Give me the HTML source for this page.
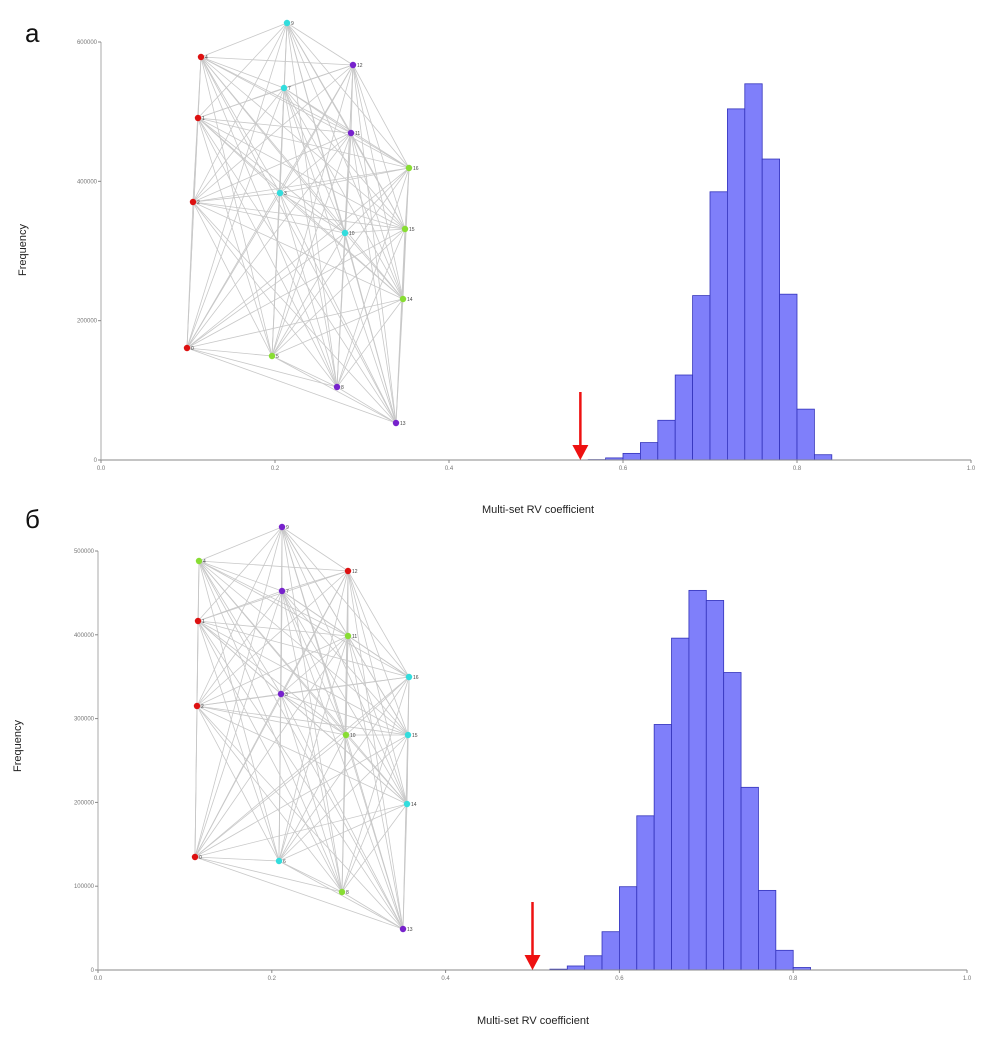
<!DOCTYPE html>
<html><head><meta charset="utf-8"><style>
body{margin:0;background:#fff;}
svg{display:block;font-family:"Liberation Sans",sans-serif;}
</style></head><body>
<svg id="chart" width="1004" height="1037" viewBox="0 0 1004 1037"></svg>
<script>
// Panel a data
const binsA = [0.56,0.58,0.60,0.62,0.64,0.66,0.68,0.70,0.72,0.74,0.76,0.78,0.80,0.82];
const freqA = [500,3000,9500,25000,57000,122000,236000,385000,504000,540000,432000,238000,73000,7600];
const yTicksA = [0,200000,400000,600000];
const observedA = 0.551;
// Panel b data
const binsB = [0.52,0.54,0.56,0.58,0.60,0.62,0.64,0.66,0.68,0.70,0.72,0.74,0.76,0.78,0.80];
const freqB = [1000,4800,17000,45700,99400,184000,293000,396000,453000,441000,355000,218000,95000,23500,3000];
const yTicksB = [0,100000,200000,300000,400000,500000];
const observedB = 0.50;
const xTicks = [0.0,0.2,0.4,0.6,0.8,1.0];
const binWidth = 0.02;
// Network nodes
const nodeIds = [9,4,12,7,1,11,10,3,2,13,15,14,0,5,8,13];
const nodesA = [[287,23,'#33dddd','9'],[201,57,'#dd1111','4'],[353,65,'#7722cc','12'],[284,88,'#33dddd','7'],[198,118,'#dd1111','1'],[351,133,'#7722cc','11'],[409,168,'#88dd33','16'],[280,193,'#33dddd','3'],[193,202,'#dd1111','2'],[345,233,'#33dddd','10'],[405,229,'#88dd33','15'],[403,299,'#88dd33','14'],[187,348,'#dd1111','0'],[272,356,'#88dd33','5'],[337,387,'#7722cc','8'],[396,423,'#7722cc','13']];
const nodesB = [[282,527,'#7722cc','9'],[199,561,'#88dd33','4'],[348,571,'#dd1111','12'],[282,591,'#7722cc','7'],[198,621,'#dd1111','1'],[348,636,'#88dd33','11'],[409,677,'#33dddd','16'],[281,694,'#7722cc','3'],[197,706,'#dd1111','2'],[346,735,'#88dd33','10'],[408,735,'#33dddd','15'],[407,804,'#33dddd','14'],[195,857,'#dd1111','0'],[279,861,'#33dddd','6'],[342,892,'#88dd33','8'],[403,929,'#7722cc','13']];

const svg = document.getElementById('chart');
const NS = 'http://www.w3.org/2000/svg';
function mk(tag, attrs, parent){const e=document.createElementNS(NS,tag);for(const k in attrs)e.setAttribute(k,attrs[k]);(parent||svg).appendChild(e);return e;}

function panel(cfg){
  const g = mk('g',{});
  
  
  const xs = v => cfg.x0 + v*cfg.xs;
  const ys = v => cfg.y0 - v/cfg.ymax*(cfg.y0-cfg.ytop);
  // letter
  const L = mk('text',{x:cfg.lx,y:cfg.ly,'font-size':26,fill:'#111'},g);
  L.textContent = cfg.letter;
  
  
  // network edges
  const net = mk('g',{},g);
  
  
  const n = cfg.nodes;
  for(let i=0;i<n.length;i++)for(let j=i+1;j<n.length;j++){
    const l = mk('line',{x1:n[i][0],y1:n[i][1],x2:n[j][0],y2:n[j][1],stroke:'#c8c8c8','stroke-width':0.8},net);
    
    
  }
  n.forEach(p=>{
    const c = mk('circle',{cx:p[0],cy:p[1],r:3.2,fill:p[2]},net);
    
    
    const t = mk('text',{x:p[0]+4,y:p[1]+2,'font-size':5,fill:'#444'},net);
    t.textContent = p[3];
  });
  // bars
  cfg.bins.forEach((b,i)=>{
    const x1 = xs(b), x2 = xs(b+binWidth), y = ys(cfg.freq[i]);
    const r = mk('rect',{x:x1,y:y,width:x2-x1,height:cfg.y0-y,fill:'#7f7ffa',stroke:'#3333bb','stroke-width':0.8},g);
    
    
  });
  // axes
  const ax = mk('line',{x1:cfg.x0,y1:cfg.y0,x2:xs(1),y2:cfg.y0,stroke:'#888','stroke-width':1},g);
  
  
  const ay = mk('line',{x1:cfg.x0,y1:cfg.y0,x2:cfg.x0,y2:cfg.ytop,stroke:'#aaa','stroke-width':1},g);
  
  
  xTicks.forEach(v=>{
    mk('line',{x1:xs(v),y1:cfg.y0,x2:xs(v),y2:cfg.y0+3,stroke:'#888'},g);
    const t = mk('text',{x:xs(v),y:cfg.y0+10,'font-size':6,fill:'#777','text-anchor':'middle'},g);
    t.textContent = v.toFixed(1);
    
    
  });
  cfg.yticks.forEach(v=>{
    mk('line',{x1:cfg.x0-3,y1:ys(v),x2:cfg.x0,y2:ys(v),stroke:'#888'},g);
    const t = mk('text',{x:cfg.x0-4,y:ys(v)+2,'font-size':6,fill:'#777','text-anchor':'end'},g);
    t.textContent = String(v);
    
    
  });
  const xt = mk('text',{x:cfg.xlx,y:cfg.xly,'font-size':11,fill:'#222','text-anchor':'middle'},g);
  xt.textContent = 'Multi-set RV coefficient';
  
  
  const yt = mk('text',{x:0,y:0,'font-size':11,fill:'#222','text-anchor':'middle',transform:`translate(${cfg.ylx},${cfg.yly}) rotate(-90)`},g);
  yt.textContent = 'Frequency';
  
  
  // arrow
  const ax0 = xs(cfg.obs);
  const ar = mk('g',{},g);
  
  
  mk('line',{x1:ax0,y1:cfg.ay,x2:ax0,y2:cfg.y0-12,stroke:'#ee1111','stroke-width':2.5},ar);
  mk('polygon',{points:`${ax0-8},${cfg.y0-15} ${ax0+8},${cfg.y0-15} ${ax0},${cfg.y0}`,fill:'#ee1111'},ar);
}

panel({name:'panel-a',letter:'а',lx:25,ly:42,x0:101,xs:870,y0:460,ytop:42,ymax:600000,bins:binsA,freq:freqA,yticks:yTicksA,obs:observedA,ay:392,nodes:nodesA,xlx:538,xly:513,ylx:26,yly:250});
panel({name:'panel-b',letter:'б',lx:25,ly:528,x0:98,xs:869,y0:970,ytop:551,ymax:500000,bins:binsB,freq:freqB,yticks:yTicksB,obs:observedB,ay:902,nodes:nodesB,xlx:533,xly:1024,ylx:21,yly:746});
</script>
</body></html>
